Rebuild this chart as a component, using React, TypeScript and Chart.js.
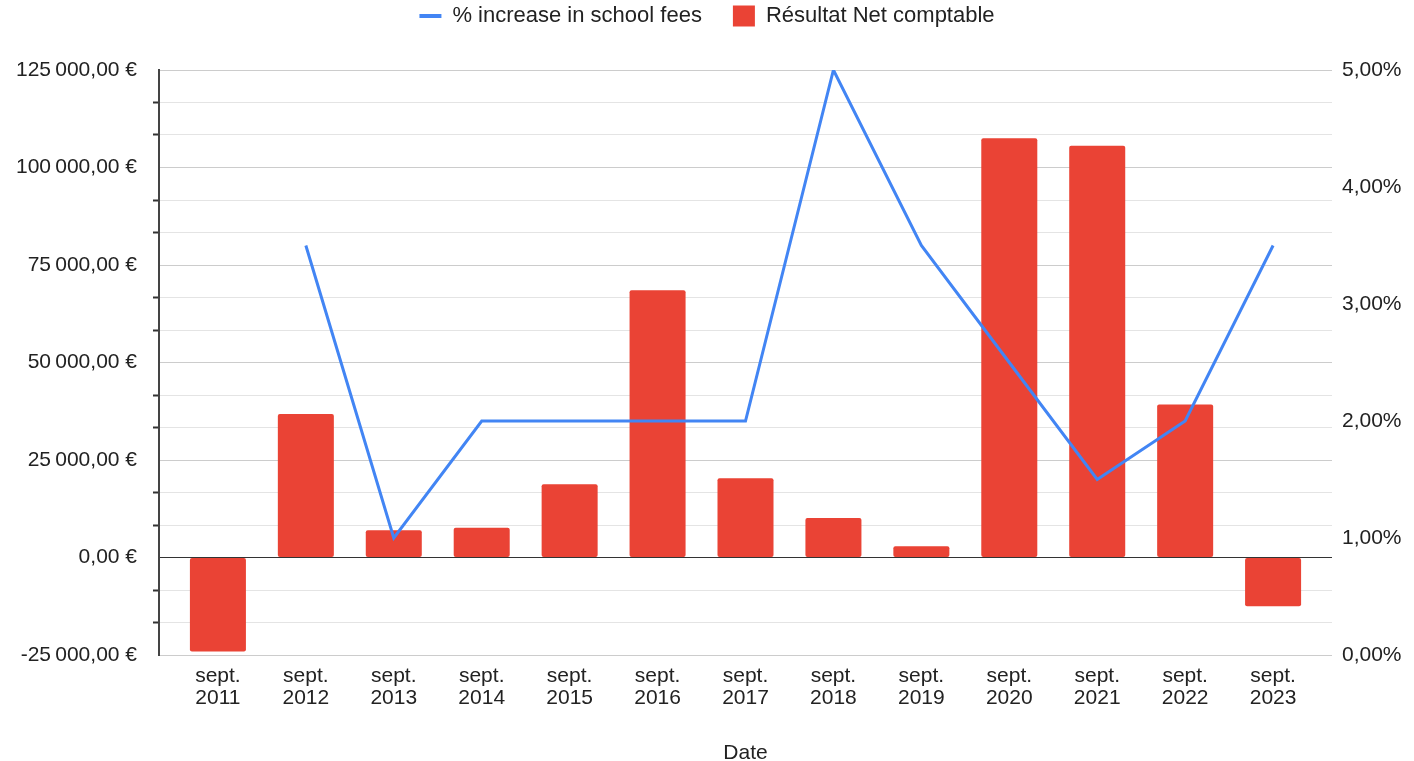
import React, { useEffect, useRef } from 'react';
import { Chart, registerables } from 'chart.js';

Chart.register(...registerables);

// ---- data ----
const MONTH = 'sept.';
const years = ['2011', '2012', '2013', '2014', '2015', '2016', '2017', '2018', '2019', '2020', '2021', '2022', '2023'];
const netResult = [-24100, 36800, 7000, 7600, 18800, 68500, 20300, 10100, 2900, 107500, 105600, 39200, -12500];
const feeIncrease: (number | null)[] = [null, 3.5, 1.0, 2.0, 2.0, 2.0, 2.0, 5.0, 3.5, 2.5, 1.5, 2.0, 3.5];

const LINE_LABEL = '% increase in school fees';
const BAR_LABEL = 'Résultat Net comptable';
const X_TITLE = 'Date';

const leftMin = -25000;
const leftMax = 125000;
const leftMajor = 25000;
const leftMinorPerMajor = 3;
const rightMin = 0;
const rightMax = 5;
const rightStep = 1;

// ---- style ----
const RED = '#EA4335';
const BLUE = '#4285F4';
const TEXT = '#222222';
const FONT = "'Liberation Sans', Arial, sans-serif";

const fmtEur = (v: number) => {
  const r = Math.round(v);
  const abs = Math.abs(r).toString().replace(/\B(?=(\d{3})+(?!\d))/g, '\u2009');
  return (r < 0 ? '-' : '') + abs + ',00 €';
};
const fmtPct = (v: number) => v.toFixed(2).replace('.', ',') + '%';
const isMajor = (v: number) => Math.abs(v / leftMajor - Math.round(v / leftMajor)) < 1e-6;

const legendTweak = {
  id: 'legendTweak',
  beforeUpdate(chart: any) {
    const lg = chart.legend;
    if (lg && !lg._patched) {
      const fit = lg.fit;
      lg.fit = function () {
        fit.call(this);
        this.height = 70;
      };
      lg._patched = true;
    }
  },
  afterLayout(chart: any) {
    const lg = chart.legend;
    if (lg) {
      lg.top -= 26;
      lg.bottom -= 26;
    }
  },
};

export default function App() {
  const ref = useRef<HTMLCanvasElement | null>(null);

  useEffect(() => {
    document.body.style.margin = '0';
    if (!ref.current) return;
    Chart.defaults.font.family = FONT;
    Chart.defaults.color = TEXT;

    const chart = new Chart(ref.current, {
      type: 'bar',
      data: {
        datasets: [
          {
            type: 'line',
            label: LINE_LABEL,
            data: feeIncrease.map((v, i) => ({ x: i, y: v })),
            borderColor: BLUE,
            backgroundColor: BLUE,
            borderWidth: 3,
            pointRadius: 0,
            tension: 0,
            yAxisID: 'y1',
            xAxisID: 'x',
            order: 0,
          } as any,
          {
            type: 'bar',
            label: BAR_LABEL,
            data: netResult.map((v, i) => ({ x: i, y: v })),
            backgroundColor: RED,
            borderColor: RED,
            borderWidth: 0,
            borderRadius: 2,
            borderSkipped: false,
            categoryPercentage: 1,
            barPercentage: 0.637,
            yAxisID: 'y',
            xAxisID: 'x',
            order: 1,
          } as any,
        ],
      },
      options: {
        responsive: false,
        animation: false,
        devicePixelRatio: 1,
        layout: { padding: 0 },
        plugins: {
          tooltip: { enabled: false },
          legend: {
            display: true,
            position: 'top',
            labels: {
              usePointStyle: true,
              pointStyleWidth: 22,
              boxHeight: 21,
              padding: 31,
              color: TEXT,
              font: { size: 22, family: FONT },
              generateLabels: () => [
                {
                  text: LINE_LABEL,
                  fillStyle: BLUE,
                  strokeStyle: BLUE,
                  lineWidth: 4,
                  pointStyle: 'line',
                  hidden: false,
                  datasetIndex: 0,
                  fontColor: TEXT,
                },
                {
                  text: BAR_LABEL,
                  fillStyle: RED,
                  strokeStyle: RED,
                  lineWidth: 0,
                  pointStyle: 'rect',
                  hidden: false,
                  datasetIndex: 1,
                  fontColor: TEXT,
                },
              ],
            },
          },
        },
        scales: {
          x: {
            type: 'linear',
            position: 'bottom',
            min: -0.67,
            max: years.length - 1 + 0.67,
            offset: false,
            grid: { display: false, drawTicks: false },
            border: { display: false },
            afterBuildTicks: (scale: any) => {
              scale.ticks = years.map((_, i) => ({ value: i }));
            },
            afterFit: (scale: any) => {
              scale.height = 106;
            },
            ticks: {
              autoSkip: false,
              maxRotation: 0,
              minRotation: 0,
              padding: 10,
              color: TEXT,
              font: { size: 21, family: FONT, lineHeight: 1.05 },
              callback: (v: any) => {
                const i = Math.round(Number(v));
                return years[i] !== undefined ? [MONTH, years[i]] : '';
              },
            },
            title: {
              display: true,
              text: X_TITLE,
              color: TEXT,
              font: { size: 21, family: FONT, lineHeight: 1 },
              padding: { top: 0, bottom: -3 },
            },
          },
          y: {
            type: 'linear',
            position: 'left',
            min: leftMin,
            max: leftMax,
            afterBuildTicks: (scale: any) => {
              const step = leftMajor / leftMinorPerMajor;
              const n = Math.round((leftMax - leftMin) / step);
              const t = [] as { value: number }[];
              for (let k = 0; k <= n; k++) t.push({ value: leftMin + k * step });
              scale.ticks = t;
            },
            afterFit: (scale: any) => {
              scale.width = 159;
            },
            border: { display: true, color: '#444444', width: 2 },
            grid: {
              drawTicks: true,
              tickLength: 6,
              tickWidth: 2,
              lineWidth: 1,
              color: (ctx: any) => {
                const v = ctx.tick ? ctx.tick.value : 1;
                if (Math.abs(v) < 1e-6) return '#333333';
                return isMajor(v) ? '#cccccc' : '#e4e4e4';
              },
              tickColor: (ctx: any) => {
                const v = ctx.tick ? ctx.tick.value : 0;
                return isMajor(v) ? 'rgba(0,0,0,0)' : '#333333';
              },
            },
            ticks: {
              autoSkip: false,
              padding: 16,
              color: TEXT,
              font: { size: 21, family: FONT },
              callback: (v: any) => (isMajor(Number(v)) ? fmtEur(Number(v)) : ''),
            },
          },
          y1: {
            type: 'linear',
            position: 'right',
            min: rightMin,
            max: rightMax,
            afterFit: (scale: any) => {
              scale.width = 82;
            },
            border: { display: false },
            grid: { display: false, drawTicks: false, drawOnChartArea: false },
            ticks: {
              stepSize: rightStep,
              padding: 10,
              color: TEXT,
              font: { size: 21, family: FONT },
              callback: (v: any) => fmtPct(Number(v)),
            },
          },
        },
      } as any,
      plugins: [legendTweak],
    });

    return () => chart.destroy();
  }, []);

  return (
    <div style={{ width: 1414, height: 761, position: 'relative', background: '#ffffff' }}>
      <canvas ref={ref} width={1414} height={761} style={{ display: 'block' }} />
    </div>
  );
}
